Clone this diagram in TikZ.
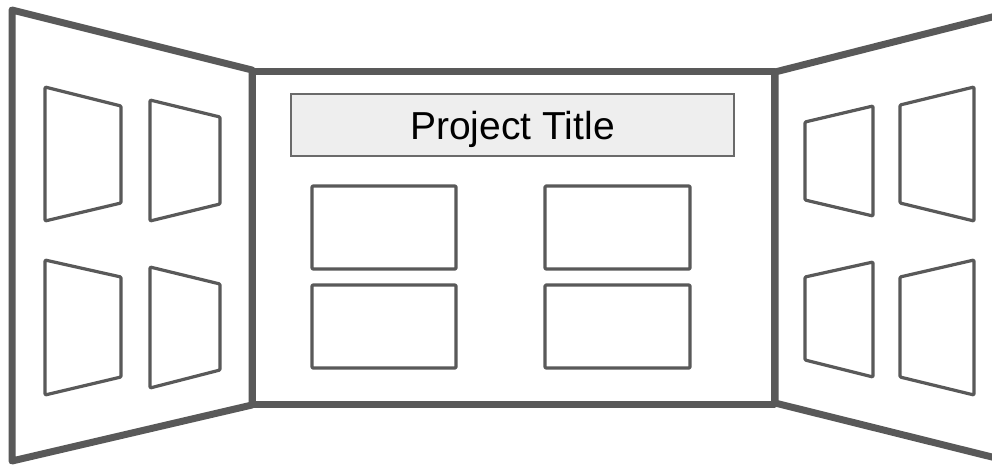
\documentclass[tikz,border=0pt]{standalone}
\usepackage{fontspec}
\setmainfont{Liberation Sans}
\usetikzlibrary{positioning}
\definecolor{board}{HTML}{595959}
\definecolor{titlefill}{HTML}{EEEEEE}

\begin{document}
\begin{tikzpicture}[
    x=1pt, y=-1pt,
    panel/.style={draw=board, line width=7pt, line join=round, fill=white},
    sheet/.style={draw=board, line width=3.2pt, line join=round, rounded corners=1pt},
    titlebox/.style={draw=board!90, fill=titlefill, line width=1.3pt, minimum width=443pt, minimum height=62pt, inner sep=0pt, text depth=0pt, font=\fontsize{39}{42}\selectfont}
]
\useasboundingbox (0,0) rectangle (992,466);

% Side panels
\draw[panel] (12,10) -- (252,70) -- (252,405) -- (12,461) -- cycle;
\draw[panel] (775,72) -- (998,15.5) -- (998,458.5) -- (775,403) -- cycle;

% Centre panel
\draw[panel] (252,71) rectangle (774,404);

% Title
\node[titlebox] (title) at (512.5,125) {Project Title};

% Centre sheets
\draw[sheet] (312,186) rectangle (456,269);
\draw[sheet] (545,186) rectangle (690,269);
\draw[sheet] (312,285) rectangle (456,368);
\draw[sheet] (545,285) rectangle (690,368);

% Left panel sheets
\draw[sheet] (45,87) -- (121,106) -- (121,203) -- (45,221) -- cycle;
\draw[sheet] (150,100) -- (220,117) -- (220,204) -- (150,221) -- cycle;
\draw[sheet] (45,260) -- (121,277) -- (121,377) -- (45,395) -- cycle;
\draw[sheet] (150,267) -- (220,284) -- (220,370) -- (150,388) -- cycle;

% Right panel sheets
\draw[sheet] (805,122) -- (873,106) -- (873,216) -- (805,200) -- cycle;
\draw[sheet] (900,105) -- (974,87) -- (974,221) -- (900,203) -- cycle;
\draw[sheet] (805,277) -- (873,262) -- (873,377) -- (805,360) -- cycle;
\draw[sheet] (900,277) -- (974,260) -- (974,395) -- (900,377) -- cycle;

\end{tikzpicture}
\end{document}
